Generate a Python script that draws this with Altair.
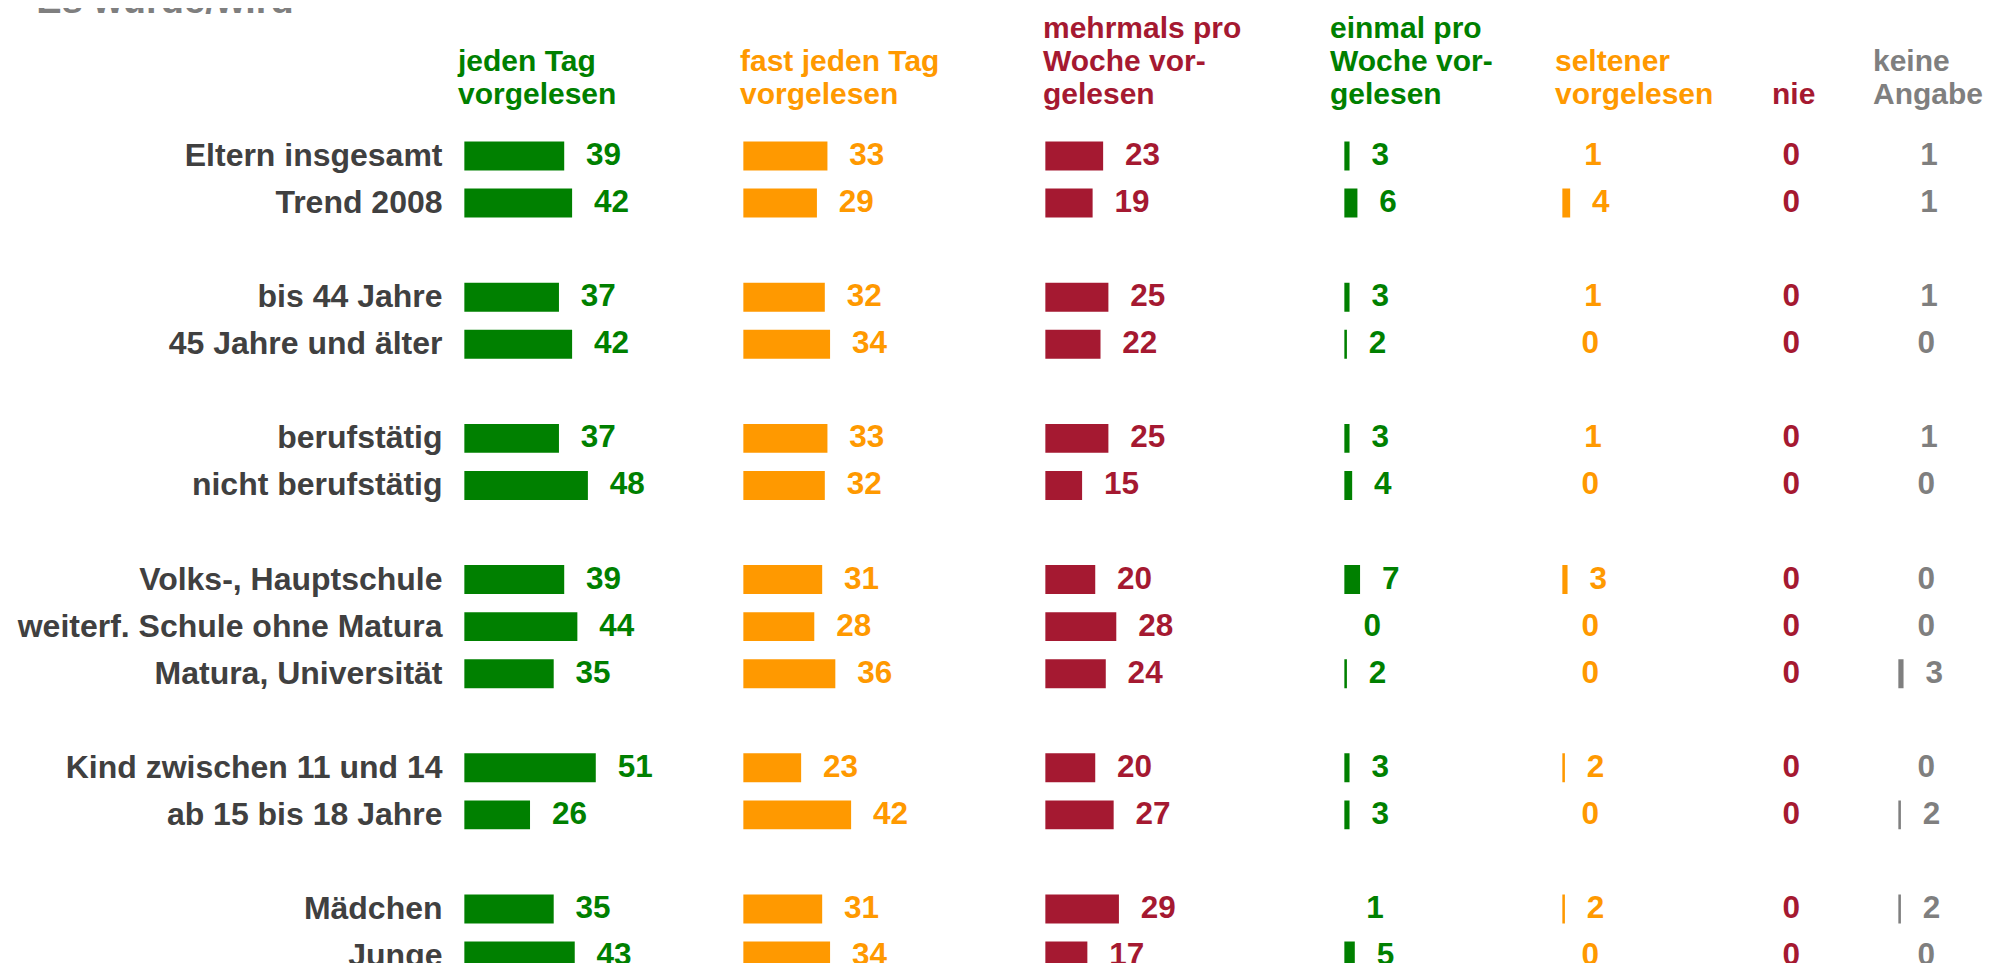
import altair as alt
import pandas as pd

# ---------------- data ----------------
categories = [
    "Eltern insgesamt", "Trend 2008",
    "bis 44 Jahre", "45 Jahre und älter",
    "berufstätig", "nicht berufstätig",
    "Volks-, Hauptschule", "weiterf. Schule ohne Matura", "Matura, Universität",
    "Kind zwischen 11 und 14", "ab 15 bis 18 Jahre",
    "Mädchen", "Junge",
]
group_sizes = [2, 2, 2, 3, 2, 2]

headers = [
    "jeden Tag\nvorgelesen",
    "fast jeden Tag\nvorgelesen",
    "mehrmals pro\nWoche vor-\ngelesen",
    "einmal pro\nWoche vor-\ngelesen",
    "seltener\nvorgelesen",
    "nie",
    "keine\nAngabe",
]
jeden_tag = [39, 42, 37, 42, 37, 48, 39, 44, 35, 51, 26, 35, 43]
fast_jeden_tag = [33, 29, 32, 34, 33, 32, 31, 28, 36, 23, 42, 31, 34]
mehrmals_pro_woche = [23, 19, 25, 22, 25, 15, 20, 28, 24, 20, 27, 29, 17]
einmal_pro_woche = [3, 6, 3, 2, 3, 4, 7, 0, 2, 3, 3, 1, 5]
seltener = [1, 4, 1, 0, 1, 0, 3, 0, 0, 2, 0, 2, 0]
nie = [0, 0, 0, 0, 0, 0, 0, 0, 0, 0, 0, 0, 0]
keine_angabe = [1, 1, 1, 0, 1, 0, 0, 0, 3, 0, 2, 2, 0]
title_text = "Es wurde/wird -"

series = [jeden_tag, fast_jeden_tag, mehrmals_pro_woche, einmal_pro_woche,
          seltener, nie, keine_angabe]

# ---------------- style / layout ----------------
GREEN, ORANGE, RED, GRAY = "#008000", "#FF9900", "#A51931", "#7F7F7F"
colors = [GREEN, ORANGE, RED, GREEN, ORANGE, RED, GRAY]
panel_widths = [278.5, 301.4, 299.0, 217.2, 200.5, 134.2, 90]
header_dx = [-5, -2, -1, -13, -6, 10, -24]
PX_PER_UNIT = 2.63
FONT = "Liberation Sans"
STEP = 47.06
HEADER_LH = 33
HEADER_LAST_BASELINE = -28

# y domain with spacer rows between groups
domain = []
i = 0
for g, n in enumerate(group_sizes):
    if g > 0:
        domain.append(" " * g)
    domain.extend(categories[i:i + n])
    i += n
height = STEP * len(domain)

yscale = alt.Scale(domain=domain, paddingInner=0.327, paddingOuter=0.1635)

panels = []
for k, (vals, col, hdr, w, hdx) in enumerate(zip(series, colors, headers, panel_widths, header_dx)):
    df = pd.DataFrame({"cat": categories, "v": vals})
    if k == 0:
        yaxis = alt.Axis(title=None, domain=False, ticks=False, labelPadding=21,
                         labelFont=FONT, labelFontSize=32, labelFontWeight="bold",
                         labelColor="#404040", labelLimit=800, grid=False)
    else:
        yaxis = None
    y = alt.Y("cat:N", scale=yscale, axis=yaxis, sort=domain)
    xs = alt.Scale(domain=[0, w / PX_PER_UNIT], nice=False, zero=True)
    base = alt.Chart(df).encode(y=y)
    bars = base.mark_bar(color=col, stroke="white", strokeWidth=2.7).encode(
        x=alt.X("v:Q", scale=xs, axis=None)
    )
    labels = base.mark_text(align="left", baseline="middle", dx=20.5, color=col,
                            font=FONT, fontSize=31.5, fontWeight="bold").encode(
        x=alt.X("v:Q", scale=xs, axis=None), text=alt.Text("v:Q")
    )
    nlines = hdr.count("\n") + 1
    head = alt.Chart(pd.DataFrame({"h": [hdr]})).mark_text(
        align="left", baseline="alphabetic", lineBreak="\n", lineHeight=HEADER_LH,
        color=col, font=FONT, fontSize=30, fontWeight="bold"
    ).encode(x=alt.value(hdx),
             y=alt.value(HEADER_LAST_BASELINE - HEADER_LH * (nlines - 1)),
             text="h:N")
    layers = [bars, labels, head]
    if k == 0:
        ttl = alt.Chart(pd.DataFrame({"t": [title_text]})).mark_text(
            align="left", baseline="alphabetic", color=GRAY, font=FONT,
            fontSize=38, fontWeight="bold"
        ).encode(x=alt.value(-426.7), y=alt.value(-119.5), text="t:N")
        layers.append(ttl)
    panels.append(alt.layer(*layers).properties(width=w, height=height))

chart = alt.hconcat(*panels, spacing=0, bounds="flush").properties(
    padding={"left": 9, "top": -25.5, "right": 0, "bottom": -17},
    background="white",
).configure_view(stroke=None, strokeWidth=0)

chart.save("out.html", embed_options={"renderer": "svg", "actions": False})
